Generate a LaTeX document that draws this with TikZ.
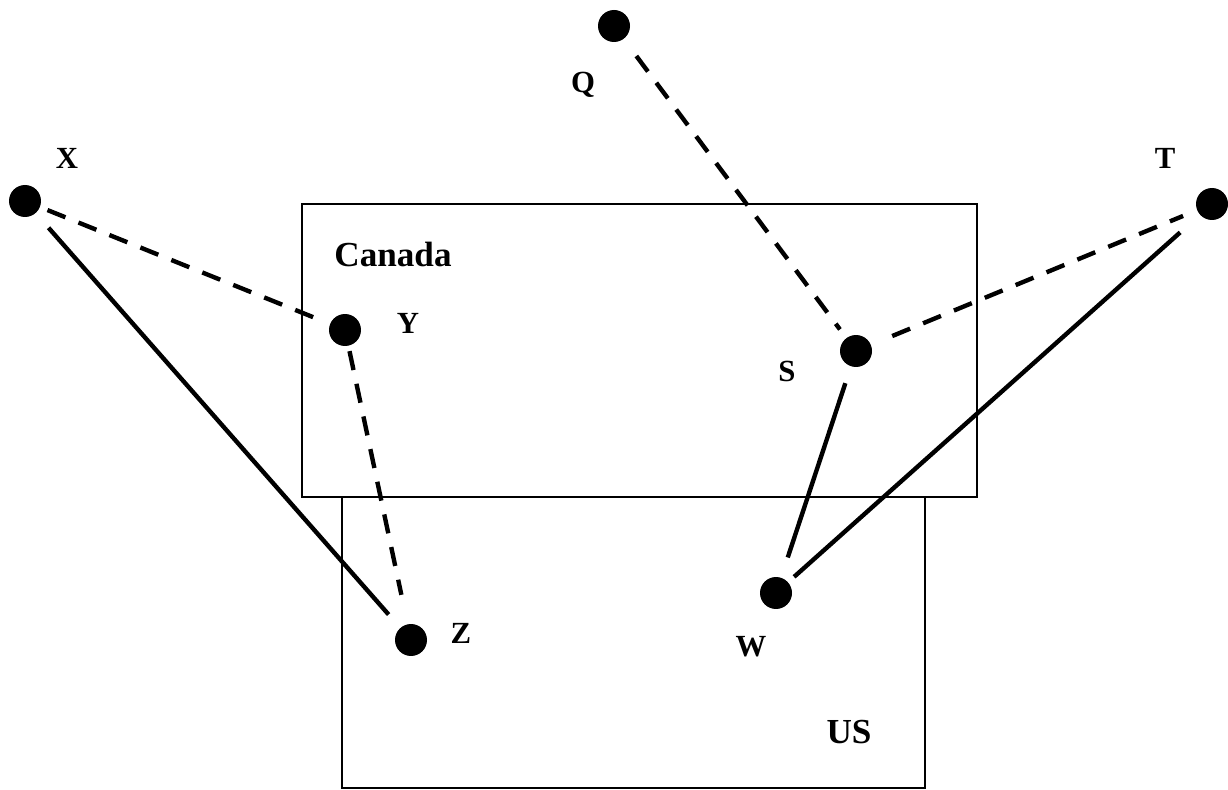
\documentclass[tikz,border=0pt]{standalone}
\usepackage{fontspec}
\setmainfont{Liberation Serif}
\usetikzlibrary{calc}

\begin{document}
\begin{tikzpicture}[x=0.02cm,y=-0.02cm,
  dot/.style={circle,fill=black,inner sep=0pt,minimum size=0.64cm},
  lbl/.style={font=\bfseries\fontsize{17.5}{20}\selectfont},
  country/.style={font=\bfseries\fontsize{20}{24}\selectfont},
  region/.style={draw,line width=0.7pt},
  solidlink/.style={line width=2.5pt},
  dashlink/.style={line width=2.5pt,dash pattern=on 11pt off 8pt}]
\useasboundingbox (0,0) rectangle (1228,790);
% the two countries
\draw[region] (342,497) rectangle (925,788);
\draw[region] (302,204) rectangle (977,497);
\node[country] (canada) at (393,254) {Canada};
\node[country] (us) at (849,732) {US};
% points
\node[dot] (q) at (614,26) {};
\node[dot] (x) at (25,201) {};
\node[dot] (t) at (1212,204) {};
\node[dot] (y) at (345,330) {};
\node[dot] (s) at (856,351) {};
\node[dot] (w) at (776,593) {};
\node[dot] (z) at (411,640) {};
\node[lbl] (ql) at (583,85) {Q};
\node[lbl] (xl) at (67,158) {X};
\node[lbl] (tl) at (1165,158) {T};
\node[lbl] (yl) at (408,323) {Y};
\node[lbl] (sl) at (787,371) {S};
\node[lbl] (wl) at (751,647) {W};
\node[lbl] (zl) at (461,633) {Z};
% links
\draw[dashlink,shorten <=4.5pt,shorten >=4.5pt] (x) -- (y);
\draw[dashlink,shorten <=3pt,shorten >=17pt] (y) -- (z);
\draw[solidlink,shorten <=11pt,shorten >=10pt] (x) -- (z);
\draw[dashlink,shorten <=12pt,shorten >=6pt] (q) -- (s);
\draw[dashlink,shorten <=13pt,shorten >=8.5pt] (s) -- (t);
\draw[solidlink,shorten <=10pt,shorten >=12pt] (s) -- (w);
\draw[solidlink,shorten <=15pt,shorten >=4.5pt] (t) -- (w);
\end{tikzpicture}
\end{document}
